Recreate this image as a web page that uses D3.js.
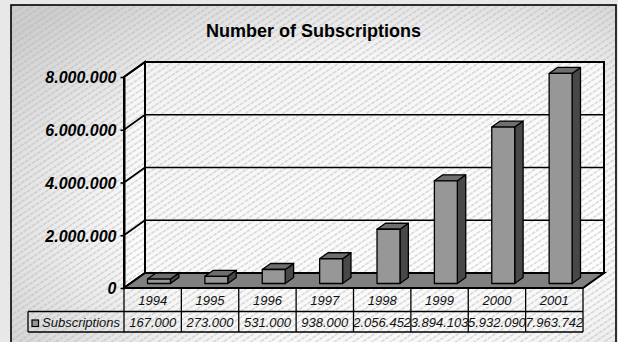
<!DOCTYPE html>
<html>
<head>
<meta charset="utf-8">
<script src="https://cdn.jsdelivr.net/npm/d3@7"></script>
<style>
  html, body { margin: 0; padding: 0; background: #ececec; }
  svg { display: block; font-family: "Liberation Sans", Arial, sans-serif; }
</style>
</head>
<body>
<svg id="chart" width="618" height="342"></svg>
<script>
// Yearly subscription counts
const years = ["1994", "1995", "1996", "1997", "1998", "1999", "2000", "2001"];
const subscriptions = [167000, 273000, 531000, 938000, 2056452, 3894103, 5932090, 7963742];
const seriesName = "Subscriptions";
const yTicks = [0, 2000000, 4000000, 6000000, 8000000];
const title = "Number of Subscriptions";

const svg = d3.select("#chart");
const W = 618, H = 342;

// Number format with dots as thousands separators
const fmt = d3.formatLocale({ decimal: ",", thousands: ".", grouping: [3], currency: ["", ""] }).format(",");

// Layout of the 3D box: front plane and depth offset
const front = { left: 124, right: 583, bottom: 288, top: 77 };
const depth = { dx: 21, dy: -15 };

const x = d3.scaleBand().domain(years).range([front.left, front.right]).paddingInner(0).paddingOuter(0);
const y = d3.scaleLinear().domain([0, 8000000]).range([front.bottom, front.top]);

// ---------- defs: gradients and hatch ----------
const defs = svg.append("defs");
const bgGrad = defs.append("radialGradient").attr("id", "bgGrad")
  .attr("cx", "62%").attr("cy", "60%").attr("r", "80%");
bgGrad.append("stop").attr("offset", "0%").attr("stop-color", "#ffffff");
bgGrad.append("stop").attr("offset", "55%").attr("stop-color", "#f7f7f7");
bgGrad.append("stop").attr("offset", "100%").attr("stop-color", "#cdcdcd");

const wallGrad = defs.append("linearGradient").attr("id", "wallGrad")
  .attr("x1", "0%").attr("y1", "0%").attr("x2", "100%").attr("y2", "100%");
wallGrad.append("stop").attr("offset", "0%").attr("stop-color", "#f3f3f3");
wallGrad.append("stop").attr("offset", "100%").attr("stop-color", "#ffffff");

const hatch = defs.append("pattern").attr("id", "hatch")
  .attr("patternUnits", "userSpaceOnUse").attr("width", 10).attr("height", 5.2)
  .attr("patternTransform", "rotate(-34)");
hatch.append("line").attr("x1", 0).attr("y1", 2.6).attr("x2", 10).attr("y2", 2.6)
  .attr("stroke", "#b3b3b3").attr("stroke-width", 0.8).attr("stroke-dasharray", "4,1");

// ---------- page and chart area ----------
svg.append("rect").attr("width", W).attr("height", H).attr("fill", "#e8e8e8");
const area = { x: 11, y: 5, w: 605, h: 345 };
svg.append("rect").attr("x", area.x).attr("y", area.y).attr("width", area.w).attr("height", area.h)
  .attr("fill", "url(#bgGrad)");
svg.append("rect").attr("x", area.x).attr("y", area.y).attr("width", area.w).attr("height", area.h)
  .attr("fill", "url(#hatch)").attr("stroke", "#000").attr("stroke-width", 1.6);

// Title
svg.append("text").attr("x", area.x + area.w / 2).attr("y", 37)
  .attr("text-anchor", "middle").attr("font-size", 18).attr("font-weight", "bold")
  .attr("fill", "#000").text(title);

// ---------- walls ----------
const bx0 = front.left + depth.dx, bx1 = front.right + depth.dx;
const byTop = front.top + depth.dy, byBot = front.bottom + depth.dy;

const backWall = [[bx0, byTop], [bx1, byTop], [bx1, byBot], [bx0, byBot]];
const sideWall = [[front.left, front.top], [bx0, byTop], [bx0, byBot], [front.left, front.bottom]];
const poly = p => "M" + p.map(d => d.join(",")).join("L") + "Z";

[backWall, sideWall].forEach(p => {
  svg.append("path").attr("d", poly(p)).attr("fill", "url(#wallGrad)");
  svg.append("path").attr("d", poly(p)).attr("fill", "url(#hatch)")
    .attr("stroke", "#000").attr("stroke-width", 2).attr("stroke-linejoin", "miter");
});

// Gridlines on side wall (diagonal) and back wall (horizontal)
const grid = svg.append("g").attr("stroke", "#000").attr("stroke-width", 1.7).attr("fill", "none");
yTicks.forEach(t => {
  const yf = y(t);
  grid.append("line").attr("x1", front.left).attr("y1", yf)
    .attr("x2", bx0).attr("y2", yf + depth.dy);
  grid.append("line").attr("x1", bx0).attr("y1", yf + depth.dy)
    .attr("x2", bx1).attr("y2", yf + depth.dy);
});

// ---------- floor ----------
const floor = [[front.left, front.bottom], [front.right, front.bottom], [bx1, byBot], [bx0, byBot]];
svg.append("path").attr("d", poly(floor)).attr("fill", "#808080")
  .attr("stroke", "#000").attr("stroke-width", 2).attr("stroke-linejoin", "miter");

// ---------- bars ----------
const barFrac = 0.4;           // width share of each category
const zFront = 0.3, zBack = 0.7; // depth span of each bar
const bars = svg.append("g").attr("stroke", "#000").attr("stroke-width", 1.3).attr("stroke-linejoin", "round");
years.forEach((yr, i) => {
  const v = subscriptions[i];
  const bw = x.bandwidth() * barFrac;
  const cx = x(yr) + x.bandwidth() / 2;
  const ox = depth.dx * zFront, oy = depth.dy * zFront;
  const ddx = depth.dx * (zBack - zFront), ddy = depth.dy * (zBack - zFront);
  const l = cx - bw / 2 + ox, r = cx + bw / 2 + ox;
  const b = y(0) + oy, t = y(v) + oy;
  // side face
  bars.append("path").attr("d", poly([[r, t], [r + ddx, t + ddy], [r + ddx, b + ddy], [r, b]]))
    .attr("fill", "#484848");
  // top face
  bars.append("path").attr("d", poly([[l, t], [l + ddx, t + ddy], [r + ddx, t + ddy], [r, t]]))
    .attr("fill", "#6e6e6e");
  // front face
  bars.append("path").attr("d", poly([[l, t], [r, t], [r, b], [l, b]]))
    .attr("fill", "#979797");
});

// ---------- value axis ----------
const axis = d3.axisLeft(y).tickValues(yTicks).tickFormat(fmt).tickSize(3.5).tickSizeOuter(0).tickPadding(4);
const gAxis = svg.append("g").attr("transform", `translate(${front.left},0)`).call(axis);
gAxis.select(".domain").attr("stroke", "#000").attr("stroke-width", 2);
gAxis.selectAll(".tick line").attr("stroke", "#000").attr("stroke-width", 1.6);
gAxis.selectAll(".tick text")
  .attr("font-family", "'Liberation Sans', Arial, sans-serif")
  .attr("font-size", 16).attr("font-weight", "bold").attr("font-style", "italic")
  .attr("fill", "#000").attr("dy", "0.36em");

// ---------- data table ----------
const rowTop = front.bottom, rowMid = 311.5, rowBot = 332;
const legendLeft = 28;
const table = svg.append("g").attr("stroke", "#000").attr("stroke-width", 1.3).attr("fill", "none");
table.append("line").attr("x1", legendLeft).attr("y1", rowMid).attr("x2", front.right).attr("y2", rowMid);
table.append("line").attr("x1", legendLeft).attr("y1", rowBot).attr("x2", front.right).attr("y2", rowBot);
table.append("line").attr("x1", legendLeft).attr("y1", rowMid).attr("x2", legendLeft).attr("y2", rowBot);
years.forEach(yr => {
  table.append("line").attr("x1", x(yr)).attr("y1", rowTop).attr("x2", x(yr)).attr("y2", rowBot);
});
table.append("line").attr("x1", front.right).attr("y1", rowTop).attr("x2", front.right).attr("y2", rowBot);

const cellText = svg.append("g").attr("font-size", 13).attr("font-style", "italic")
  .attr("fill", "#111").attr("text-anchor", "middle");
years.forEach((yr, i) => {
  const cx = x(yr) + x.bandwidth() / 2;
  cellText.append("text").attr("x", cx).attr("y", 305).text(yr);
  cellText.append("text").attr("x", cx).attr("y", 327).text(fmt(subscriptions[i]));
});

// Legend key in the table
svg.append("rect").attr("x", 32).attr("y", 320).attr("width", 6.5).attr("height", 6.5)
  .attr("fill", "#979797").attr("stroke", "#000").attr("stroke-width", 1.2);
svg.append("text").attr("x", 42).attr("y", 327).attr("font-size", 13).attr("font-style", "italic")
  .attr("fill", "#111").text(seriesName);
</script>
</body>
</html>
